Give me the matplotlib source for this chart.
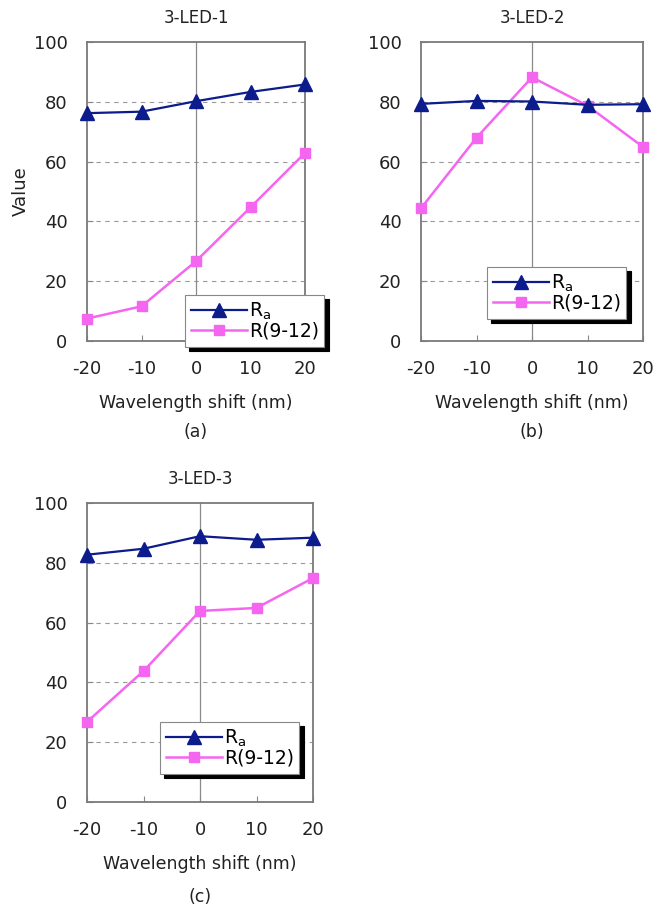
import matplotlib
matplotlib.use("Agg")
import matplotlib.pyplot as plt

plt.rcParams['font.family'] = ['DejaVu Sans']
plt.rcParams['axes.unicode_minus'] = False

shift = [-20, -10, 0, 10, 20]
ra_1 = [76.2, 76.7, 80.2, 83.3, 85.8]
r912_1 = [7.5, 11.6, 26.7, 44.7, 62.9]
ra_2 = [79.3, 80.3, 80.1, 79.0, 79.2]
r912_2 = [44.4, 68.0, 88.2, 78.7, 64.9]
ra_3 = [82.7, 84.7, 88.9, 87.7, 88.4]
r912_3 = [26.8, 43.8, 63.9, 64.9, 74.9]
titles = ["3-LED-1", "3-LED-2", "3-LED-3"]
captions = ["(a)", "(b)", "(c)"]
yticks = [0, 20, 40, 60, 80, 100]
xticks = [-20, -10, 0, 10, 20]

W, H = 663, 908
fig = plt.figure(figsize=(W / 100, H / 100), dpi=100)

NAVY = '#0c1c8c'
MAG = '#f466f0'


def px_axes(left, top, right, bottom):
    return fig.add_axes([left / W, 1 - bottom / H, (right - left) / W, (bottom - top) / H])


panels = [
    (px_axes(87, 42, 305, 341), ra_1, r912_1, (185, 295)),
    (px_axes(421, 42, 643, 341), ra_2, r912_2, (487, 267)),
    (px_axes(87, 503, 313, 802), ra_3, r912_3, (160, 722)),
]

for i, (ax, ra, r9, legpos) in enumerate(panels):
    ax.set_xlim(-20, 20)
    ax.set_ylim(0, 100)
    for y in [20, 40, 60, 80]:
        ax.axhline(y, color='#9a9a9a', lw=0.8, ls=(0, (4, 4)), zorder=1)
    ax.axvline(0, color='#8a8a8a', lw=0.9, zorder=1)
    l1, = ax.plot(shift, ra, color=NAVY, lw=1.6, marker='^', ms=10.5,
                  mfc=NAVY, mec=NAVY, clip_on=False, zorder=4, label='R$_\\mathregular{a}$')
    l2, = ax.plot(shift, r9, color=MAG, lw=1.8, marker='s', ms=7,
                  mfc=MAG, mec=MAG, clip_on=False, zorder=3, label='R(9-12)')
    ax.set_xticks(xticks)
    ax.set_yticks(yticks)
    ax.tick_params(direction='in', length=4, width=0.8, colors='#888888',
                   labelcolor='#222222', labelsize=13, pad=14)
    ax.tick_params(axis='y', pad=14)
    for s in ax.spines.values():
        s.set_color('#7a7a7a')
        s.set_linewidth(1.3)
    ax.set_title(titles[i], fontsize=12, color='#222222', pad=14)
    ax.set_xlabel('Wavelength shift (nm)', fontsize=12.5, color='#222222', labelpad=11)
    leg = fig.legend(handles=[l1, l2], loc='upper left',
                     bbox_to_anchor=(legpos[0] / W, 1 - legpos[1] / H),
                     bbox_transform=fig.transFigure, borderaxespad=0,
                     fontsize=13.5, handlelength=3.0, handletextpad=0.1,
                     labelspacing=0.0, borderpad=0.3, fancybox=False,
                     framealpha=1, edgecolor='#888888',
                     shadow={'color': 'black', 'alpha': 1, 'ox': 3, 'oy': -3})
    leg.get_frame().set_linewidth(0.8)
    leg.set_zorder(10)

panels[0][0].set_ylabel('Value', fontsize=13, color='#222222', labelpad=3)

fig.text(196 / W, 1 - 432 / H, captions[0], ha='center', va='center', fontsize=12.5, color='#222222')
fig.text(532 / W, 1 - 432 / H, captions[1], ha='center', va='center', fontsize=12.5, color='#222222')
fig.text(200 / W, 1 - 897 / H, captions[2], ha='center', va='center', fontsize=12.5, color='#222222')

fig.savefig('out.png', dpi=100, facecolor='white')
